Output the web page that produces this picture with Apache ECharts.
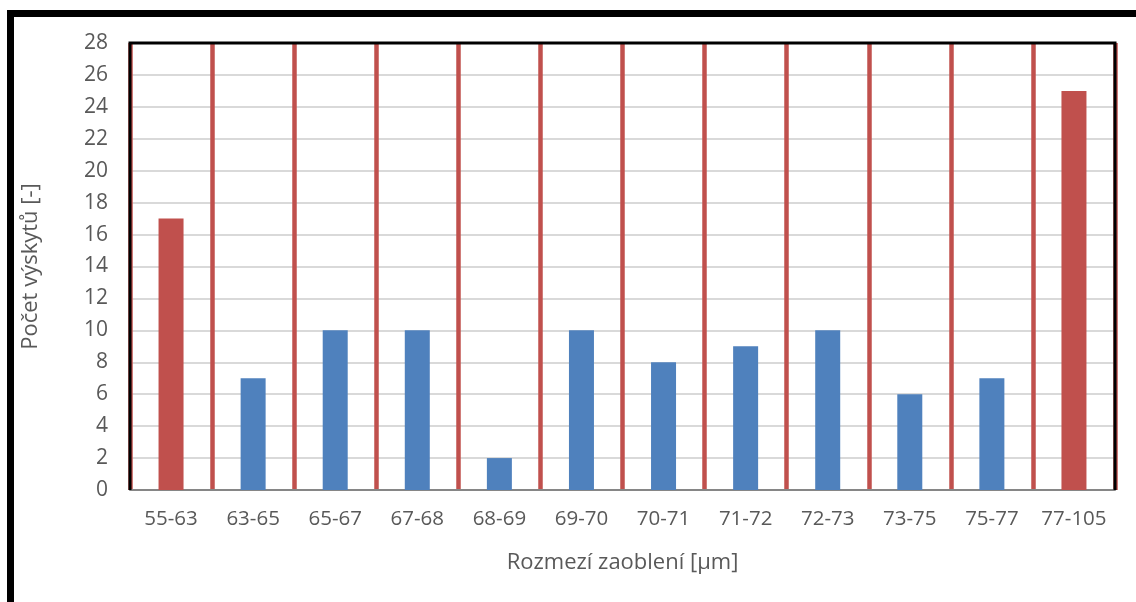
<!DOCTYPE html>
<html>
<head>
<meta charset="utf-8">
<script src="https://cdn.jsdelivr.net/npm/echarts@6/dist/echarts.min.js"></script>
<style>html,body{margin:0;padding:0;background:#fff}#c{width:1136px;height:602px}</style>
</head>
<body>
<div id="c"></div>
<script>
const categories = ['55-63','63-65','65-67','67-68','68-69','69-70','70-71','71-72','72-73','73-75','75-77','77-105'];
const counts = [17,7,10,10,2,10,8,9,10,6,7,25];
const highlighted = ['55-63','77-105'];
const yTicks = {min:0, max:28, interval:2};
const RED = '#c0504d', BLUE = '#4f81bd';
const FONT = 'Open Sans';
const G = {left:130, top:43, right:21, bottom:112};
const chart = echarts.init(document.getElementById('c'));
chart.setOption({
  animation:false,
  backgroundColor:'#fff',
  graphic:[
    {type:'rect', shape:{x:10.5,y:13.5,width:1300,height:800}, style:{fill:null, stroke:'#000', lineWidth:7}, z:100},
    {type:'polyline', shape:{points:[[G.left, 602-G.bottom],[G.left, G.top],[1136-G.right, G.top],[1136-G.right, 602-G.bottom]]}, style:{fill:null, stroke:'#000', lineWidth:3}, z:100}
  ],
  grid:{left:G.left, top:G.top, right:G.right, bottom:G.bottom},
  xAxis:{
    type:'category', data:categories, boundaryGap:true,
    name:'Rozmezí zaoblení [µm]', nameLocation:'middle', nameGap:62,
    nameTextStyle:{fontFamily:FONT, fontSize:22, color:'#595959'},
    axisLine:{show:true, lineStyle:{color:'#868686', width:2}},
    axisTick:{show:false, interval:0},
    axisLabel:{interval:0, fontFamily:FONT, fontSize:20.5, color:'#595959', margin:19},
    splitLine:{show:true, interval:0, lineStyle:{color:RED, width:4.5}}
  },
  yAxis:{
    type:'value', min:yTicks.min, max:yTicks.max, interval:yTicks.interval,
    name:'Počet výskytů [-]', nameLocation:'middle', nameGap:88,
    nameTextStyle:{fontFamily:FONT, fontSize:22, color:'#595959'},
    axisLine:{show:false}, axisTick:{show:false},
    axisLabel:{fontFamily:FONT, fontSize:21, color:'#595959', margin:22},
    splitLine:{show:true, lineStyle:{color:'#d9d9d9', width:2}}
  },
  series:[{
    type:'bar', barWidth:25,
    data:counts.map((v,i)=>({value:v, itemStyle:{color: highlighted.includes(categories[i]) ? RED : BLUE}}))
  }]
});
</script>
</body>
</html>
